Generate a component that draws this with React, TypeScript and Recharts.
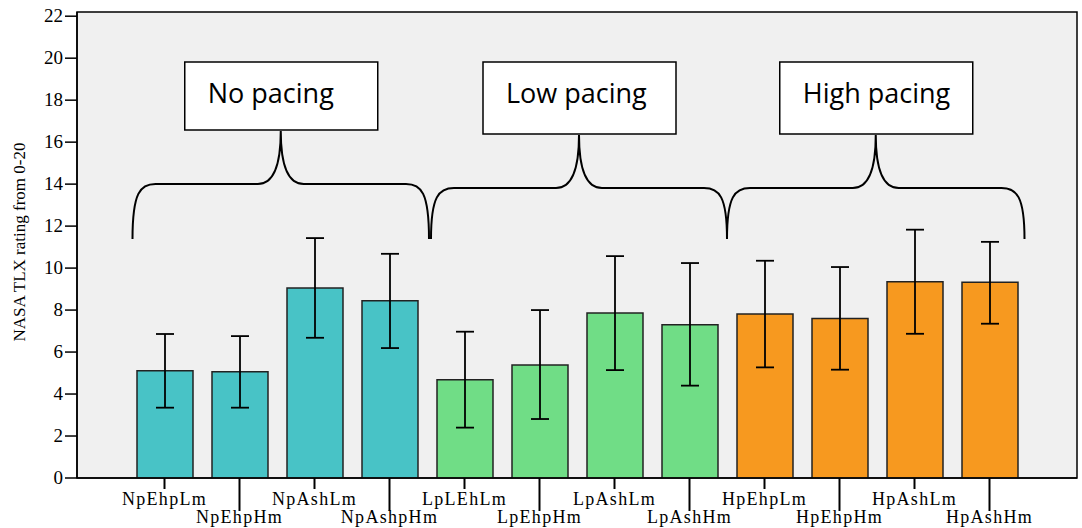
import React from 'react'
import { BarChart, Bar, XAxis, YAxis, CartesianGrid, ErrorBar, Cell } from 'recharts'

const categories = [
  'NpEhpLm', 'NpEhpHm', 'NpAshLm', 'NpAshpHm',
  'LpLEhLm', 'LpEhpHm', 'LpAshLm', 'LpAshHm',
  'HpEhpLm', 'HpEhpHm', 'HpAshLm', 'HpAshHm',
]
const groups = ['No', 'No', 'No', 'No', 'Low', 'Low', 'Low', 'Low', 'High', 'High', 'High', 'High']
const means = [5.11, 5.06, 9.05, 8.44, 4.68, 5.38, 7.86, 7.3, 7.81, 7.6, 9.35, 9.32]
const upper = [6.86, 6.76, 11.43, 10.68, 6.97, 8.0, 10.57, 10.24, 10.35, 10.05, 11.83, 11.25]
const lower = [3.35, 3.35, 6.68, 6.19, 2.4, 2.81, 5.14, 4.4, 5.27, 5.16, 6.87, 7.35]
const yTicks = [0, 2, 4, 6, 8, 10, 12, 14, 16, 18, 20, 22]
const groupLabels = ['No pacing', 'Low pacing', 'High pacing']

const groupColors: Record<string, string> = {
  No: '#48C3C6',
  Low: '#70DD86',
  High: '#F7991F',
}

const data = categories.map((name, i) => ({
  name,
  value: means[i],
  err: [means[i] - lower[i], upper[i] - means[i]],
}))

// layout
const W = 1082
const H = 528
const LEFT = 77
const RIGHT = 1077
const TOP = 12
const AXIS_Y = 478
const PAD = 50
const BAND = (RIGHT - LEFT - 2 * PAD) / categories.length
const cx = (i: number) => LEFT + PAD + BAND * (i + 0.5)
const SERIF = "'Liberation Serif', 'Times New Roman', serif"

const XTick = (props: any) => {
  const { x, y, payload } = props
  const i = payload.index
  const long = i % 2 === 1
  return (
    <g>
      <line x1={x} x2={x} y1={y} y2={y + (long ? 33 : 11)} stroke="#000" strokeWidth={2} />
      <text
        x={x}
        y={y + (long ? 45 : 27)}
        textAnchor="middle"
        fontFamily={SERIF}
        fontSize={18}
        letterSpacing={1.3}
        fill="#000"
      >
        {payload.value}
      </text>
    </g>
  )
}

const YTick = (props: any) => {
  const { x, y, payload } = props
  return (
    <text x={x} y={y} dy={6} textAnchor="end" fontFamily={SERIF} fontSize={19} fill="#000">
      {payload.value}
    </text>
  )
}

function bracePath(xa: number, xb: number, hy: number, tipY: number, endY: number) {
  const xm = (xa + xb) / 2
  return [
    `M ${xa} ${endY}`,
    `C ${xa} ${hy + 8} ${xa + 8} ${hy} ${xa + 23} ${hy}`,
    `L ${xm - 23} ${hy}`,
    `C ${xm - 8} ${hy} ${xm} ${hy - 18} ${xm} ${tipY}`,
    `C ${xm} ${hy - 18} ${xm + 8} ${hy} ${xm + 23} ${hy}`,
    `L ${xb - 23} ${hy}`,
    `C ${xb - 8} ${hy} ${xb} ${hy + 8} ${xb} ${endY}`,
  ].join(' ')
}

const Overlay = () => {
  const ends = [
    [cx(0) - 32, (cx(3) + cx(4)) / 2 + 2],
    [(cx(3) + cx(4)) / 2 + 4, (cx(7) + cx(8)) / 2],
    [(cx(7) + cx(8)) / 2, cx(11) + 35],
  ]
  const hys = [184, 188, 188]
  const tips = [131, 135, 135]
  const boxBottoms = [130, 134, 134]
  return (
    <g>
      <rect x={LEFT} y={TOP} width={RIGHT - LEFT} height={AXIS_Y - TOP} fill="none" stroke="#000" strokeWidth={1.5} />
      {ends.map(([a, b], k) => {
        const xm = (a + b) / 2
        return (
          <g key={k}>
            <path d={bracePath(a, b, hys[k], tips[k], 239)} fill="none" stroke="#000" strokeWidth={2} />
            <rect x={xm - 96} y={62} width={193} height={boxBottoms[k] - 62} fill="#fff" stroke="#000" strokeWidth={1.5} />
            <text x={xm - 73} y={103} fontFamily="'Open Sans', 'Noto Sans', sans-serif" fontSize={27} fill="#000">
              {groupLabels[k]}
            </text>
          </g>
        )
      })}
      <text
        transform={`translate(25, ${(TOP + AXIS_Y) / 2 - 3}) rotate(-90)`}
        textAnchor="middle"
        fontFamily={SERIF}
        fontSize={17}
        fill="#000"
      >
        NASA TLX rating from 0-20
      </text>
    </g>
  )
}

export default function App() {
  return (
    <div style={{ position: 'absolute', left: 0, top: 0, width: W, height: H, background: '#fff' }}>
      <BarChart width={W} height={H} data={data} margin={{ top: TOP, right: W - RIGHT, bottom: 0, left: 0 }}>
        <CartesianGrid horizontal={false} vertical={false} fill="#F0F0F0" />
        <XAxis
          dataKey="name"
          interval={0}
          height={H - AXIS_Y}
          padding={{ left: PAD, right: PAD }}
          tickLine={false}
          tickSize={0}
          tickMargin={0}
          axisLine={{ stroke: '#000', strokeWidth: 1.5 }}
          tick={<XTick />}
        />
        <YAxis
          width={LEFT}
          domain={[0, 22.2]}
          ticks={yTicks}
          allowDataOverflow
          tickSize={12}
          tickMargin={2}
          axisLine={{ stroke: '#000', strokeWidth: 1.5 }}
          tickLine={{ stroke: '#000', strokeWidth: 1.5 }}
          tick={<YTick />}
        />
        <Bar dataKey="value" barSize={56} stroke="#222" strokeWidth={1.5} isAnimationActive={false}>
          {data.map((d, i) => (
            <Cell key={d.name} fill={groupColors[groups[i]]} />
          ))}
          <ErrorBar dataKey="err" width={9} stroke="#000" strokeWidth={1.8} isAnimationActive={false} />
        </Bar>
        <Overlay />
      </BarChart>
    </div>
  )
}
